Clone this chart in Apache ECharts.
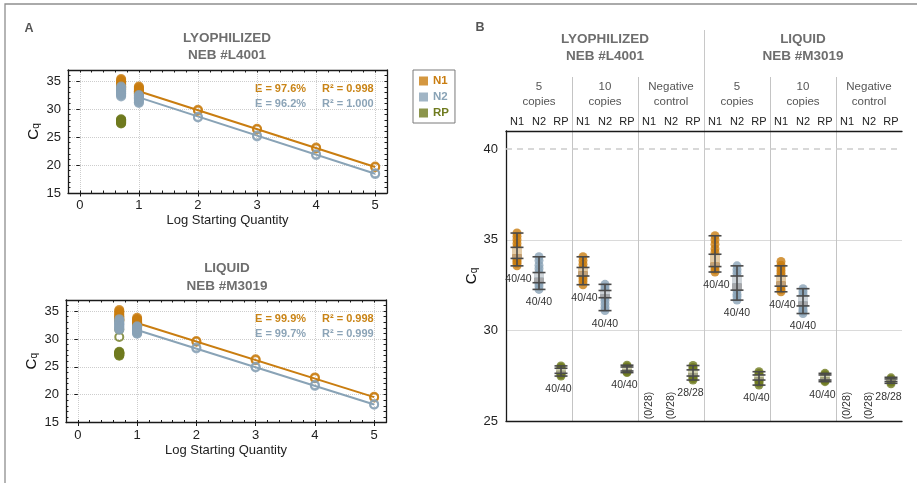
<!DOCTYPE html>
<html><head><meta charset="utf-8">
<script src="https://cdn.jsdelivr.net/npm/echarts@6/dist/echarts.min.js"></script>
<style>html,body{margin:0;padding:0;background:#fff}#c{width:917px;height:483px}</style>
</head><body><div id="c"></div>
<script>
// ================= DATA =================
// Panel B categories
const targets = ['N1', 'N2', 'RP'];
const subgroups = ['5\ncopies', '10\ncopies', 'Negative\ncontrol', '5\ncopies', '10\ncopies', 'Negative\ncontrol'];
const groups = ['LYOPHILIZED\nNEB #L4001', 'LIQUID\nNEB #M3019'];
const columnTargets = ['N1','N2','RP','N1','N2','RP','N1','N2','RP','N1','N2','RP','N1','N2','RP','N1','N2','RP'];

// Cq values per column (estimated)
const lyo5_N1 = [35.37, 35.2, 35.0, 34.8, 34.6, 34.45, 34.3, 34.2, 34.1, 34.0, 33.9, 33.8, 33.7, 33.56];
const lyo5_N2 = [34.06, 33.85, 33.6, 33.4, 33.2, 33.05, 32.95, 32.85, 32.75, 32.6, 32.45, 32.26];
const lyo5_RP = [28.04, 27.95, 27.88, 27.8, 27.75, 27.7, 27.62, 27.55, 27.48];
const lyo10_N1 = [34.06, 33.85, 33.65, 33.45, 33.3, 33.2, 33.1, 33.0, 32.85, 32.7, 32.52];
const lyo10_N2 = [32.54, 32.4, 32.25, 32.1, 32.0, 31.9, 31.8, 31.65, 31.45, 31.25, 31.09];
const lyo10_RP = [28.08, 28.0, 27.95, 27.9, 27.84, 27.78, 27.72, 27.67];
const lyoNeg_RP = [28.06, 27.95, 27.85, 27.75, 27.68, 27.6, 27.52, 27.42, 27.34, 27.26];
const liq5_N1 = [35.22, 35.0, 34.75, 34.5, 34.3, 34.1, 33.95, 33.8, 33.65, 33.5, 33.35, 33.22];
const liq5_N2 = [33.56, 33.35, 33.15, 32.95, 32.8, 32.65, 32.5, 32.35, 32.2, 32.0, 31.85, 31.67];
const liq5_RP = [27.72, 27.62, 27.52, 27.45, 27.38, 27.3, 27.2, 27.1, 26.98];
const liq10_N1 = [33.8, 33.6, 33.45, 33.3, 33.15, 33.0, 32.85, 32.7, 32.55, 32.4, 32.25, 32.13];
const liq10_N2 = [32.3, 32.15, 32.0, 31.85, 31.7, 31.6, 31.5, 31.4, 31.3, 31.15, 31.05, 30.93];
const liq10_RP = [27.63, 27.55, 27.48, 27.42, 27.36, 27.3, 27.23, 27.17];
const liqNeg_RP = [27.38, 27.3, 27.22, 27.15, 27.05];

const columnPoints = [lyo5_N1, lyo5_N2, lyo5_RP, lyo10_N1, lyo10_N2, lyo10_RP, [], [], lyoNeg_RP,
                      liq5_N1, liq5_N2, liq5_RP, liq10_N1, liq10_N2, liq10_RP, [], [], liqNeg_RP];

// Box stats per column: [low whisker, q1, median, q3, high whisker]
const boxStats = [
  [33.56, 33.97, 34.2, 34.58, 35.37],
  [32.26, 32.63, 32.91, 33.19, 34.06],
  [27.48, 27.63, 27.77, 27.91, 28.04],
  [32.52, 33.0, 33.26, 33.47, 34.06],
  [31.09, 31.8, 32.0, 32.2, 32.54],
  [27.67, 27.76, 27.87, 27.98, 28.08],
  null, null,
  [27.26, 27.48, 27.65, 27.82, 28.06],
  [33.22, 33.52, 33.74, 34.2, 35.22],
  [31.67, 32.22, 32.6, 33.0, 33.56],
  [26.98, 27.26, 27.4, 27.54, 27.72],
  [32.13, 32.44, 32.7, 33.0, 33.56],
  [30.93, 31.35, 31.6, 31.9, 32.3],
  [27.17, 27.26, 27.4, 27.54, 27.63],
  null, null,
  [27.08, 27.18, 27.25, 27.32, 27.41]
];
const countLabels = ['40/40','40/40','40/40','40/40','40/40','40/40','(0/28)','(0/28)','28/28',
                     '40/40','40/40','40/40','40/40','40/40','40/40','(0/28)','(0/28)','28/28'];

// Panel A: log starting quantity
const logQty = [0.699, 1];          // 5 copies, 10 copies
const stdX = [2, 3, 4, 5];
const lyoStdN1 = [[29.72, 29.9], [26.35, 26.5], [22.98, 23.12], [19.6, 19.75]];
const lyoStdN2 = [[28.5, 28.65], [25.12, 25.28], [21.78, 21.92], [18.38, 18.52]];
const liqStdN1 = [[29.5, 29.65], [26.2, 26.35], [22.95, 23.1], [19.48, 19.62]];
const liqStdN2 = [[28.3, 28.45], [24.88, 25.02], [21.58, 21.72], [18.18, 18.3]];
const lyoA_RP = [28.2, 28.1, 28.0, 27.9, 27.8, 27.7, 27.6, 27.5, 27.44];
const liqExtraRP = [30.35, 31.7];
const fitX = [1, 5];
const lyoFitN1 = [33.2, 19.66];
const lyoFitN2 = [32.1, 18.45];
const liqFitN1 = [32.87, 19.55];
const liqFitN2 = [31.6, 18.24];
const lyoStats = [['E = 97.6%', 'R\u00b2 = 0.998'], ['E = 96.2%', 'R\u00b2 = 1.000']];
const liqStats = [['E = 99.9%', 'R\u00b2 = 0.998'], ['E = 99.7%', 'R\u00b2 = 0.999']];

// ================= STYLE =================
const FONT = '"Liberation Sans", Arial, sans-serif';
const COL = { N1: '#C97D10', N2: '#89A3B6', RP: '#6F7B1F' };
const TXT = { N1: '#C98416', N2: '#8CA4B7' };
const BOXC = { N1: ['#E3CBA6', '#C0A078'], N2: ['#CDD3D8', '#A6A8AB'], RP: ['#D3D3B2', '#A4A486'] };
const BLACK = '#1a1a1a';
const T = 'rgba(0,0,0,0)';
const intOnly = v => (Math.abs(v - Math.round(v)) < 1e-6 ? String(Math.round(v)) : '');
const five = v => (Math.abs(v / 5 - Math.round(v / 5)) < 1e-6 ? String(Math.round(v)) : '');
const cqName = '{a|C}{b|q}';
const cqStyle = { rich: { a: { fontSize: 15, color: '#111', lineHeight: 15, verticalAlign: 'top' },
                          b: { fontSize: 10, color: '#111', lineHeight: 10, padding: [9, 0, 0, 0], verticalAlign: 'bottom' } } };

function aAxes(gi) {
  const line = { show: true, onZero: false, lineStyle: { color: BLACK, width: 1.3 } };
  const tickLs = { color: BLACK, width: 1 };
  const xs = [
    { gridIndex: gi, type: 'value', position: 'bottom', min: -0.2, max: 5.2, interval: 0.2,
      axisLine: line, axisTick: { show: true, inside: true, length: 2.5, lineStyle: tickLs },
      axisLabel: { formatter: intOnly, fontSize: 13, color: '#222', margin: 6 },
      splitLine: { show: true, lineStyle: { type: 'dotted', width: 1, color: [T, '#cdcdcd', T, T, T] } },
      name: 'Log Starting Quantity', nameLocation: 'middle', nameGap: 21,
      nameTextStyle: { fontSize: 13, color: '#222' } },
    { gridIndex: gi, type: 'value', position: 'top', min: -0.2, max: 5.2, interval: 0.2,
      axisLine: line, axisTick: { show: true, inside: true, length: 2.5, lineStyle: tickLs },
      axisLabel: { show: false }, splitLine: { show: false } },
    { gridIndex: gi, type: 'value', position: 'bottom', min: -0.2, max: 5.2,
      axisLine: { show: false }, axisTick: { show: true, inside: false, length: 3.5, customValues: [0, 1, 2, 3, 4, 5], lineStyle: tickLs },
      axisLabel: { show: false }, splitLine: { show: false } }
  ];
  const ys = [
    { gridIndex: gi, type: 'value', position: 'left', min: 15, max: 37, interval: 1,
      axisLine: line, axisTick: { show: true, inside: true, length: 2.5, lineStyle: tickLs },
      axisLabel: { formatter: five, fontSize: 13, color: '#222', margin: 7 },
      splitLine: { show: true, lineStyle: { type: 'dotted', width: 1, color: ['#cdcdcd', T, T, T, T] } },
      name: cqName, nameLocation: 'middle', nameRotate: 90, nameGap: 27, nameTextStyle: cqStyle },
    { gridIndex: gi, type: 'value', position: 'right', min: 15, max: 37, interval: 1,
      axisLine: line, axisTick: { show: true, inside: true, length: 2.5, lineStyle: tickLs },
      axisLabel: { show: false }, splitLine: { show: false } },
    { gridIndex: gi, type: 'value', position: 'left', min: 15, max: 37,
      axisLine: { show: false }, axisTick: { show: true, inside: false, length: 3.5, customValues: [15, 20, 25, 30, 35], lineStyle: tickLs },
      axisLabel: { show: false }, splitLine: { show: false } }
  ];
  return { xs, ys };
}
const a0 = aAxes(0), a1 = aAxes(1);

// ---- Panel A series ----
function aRing(name, xi, yi, color, pts) {
  return { type: 'scatter', name, xAxisIndex: xi, yAxisIndex: yi, symbol: 'circle', symbolSize: 8,
           itemStyle: { color: T, borderColor: color, borderWidth: 2 }, z: 4, data: pts, animation: false };
}
function aDots(name, xi, yi, color, pts) {
  return { type: 'scatter', name, xAxisIndex: xi, yAxisIndex: yi, symbol: 'circle', symbolSize: 10,
           itemStyle: { color }, z: 4, data: pts, animation: false };
}
function aLine(xi, yi, color, ys) {
  return { type: 'line', name: 'fit', xAxisIndex: xi, yAxisIndex: yi, symbol: 'none', z: 3,
           lineStyle: { color, width: 2 }, data: fitX.map((x, i) => [x, ys[i]]), animation: false };
}
const stdPts = arr => stdX.flatMap((x, i) => arr[i].map(v => [x, v]));
const series = [
  aLine(0, 0, COL.N1, lyoFitN1), aLine(0, 0, COL.N2, lyoFitN2),
  aRing('N1', 0, 0, COL.N1, stdPts(lyoStdN1)),
  aRing('N2', 0, 0, COL.N2, stdPts(lyoStdN2)),
  aDots('N1', 0, 0, COL.N1, [...lyo5_N1.map(v => [logQty[0], v]), ...lyo10_N1.map(v => [logQty[1], v])]),
  aDots('N2', 0, 0, COL.N2, [...lyo5_N2.map(v => [logQty[0], v]), ...lyo10_N2.map(v => [logQty[1], v])]),
  aDots('RP', 0, 0, COL.RP, lyoA_RP.map(v => [logQty[0], v])),
  aLine(3, 3, COL.N1, liqFitN1), aLine(3, 3, COL.N2, liqFitN2),
  aRing('N1', 3, 3, COL.N1, stdPts(liqStdN1)),
  aRing('N2', 3, 3, COL.N2, stdPts(liqStdN2)),
  aDots('N1', 3, 3, COL.N1, [...liq5_N1.map(v => [logQty[0], v]), ...liq10_N1.map(v => [logQty[1], v])]),
  aRing('RP', 3, 3, COL.RP, liqExtraRP.map(v => [logQty[0], v])),
  aDots('RP', 3, 3, COL.RP, liq5_RP.map(v => [logQty[0], v])),
  aDots('N2', 3, 3, COL.N2, [...liq5_N2.map(v => [logQty[0], v]), ...liq10_N2.map(v => [logQty[1], v])])
];

// ---- Panel B series ----
targets.forEach((t, ti) => {
  const data = [];
  columnPoints.forEach((pts, col) => { if (col % 3 === ti) pts.forEach(v => data.push([col, v])); });
  const s = { type: 'scatter', name: t, xAxisIndex: 6, yAxisIndex: 6, symbol: 'circle', symbolSize: 9,
              itemStyle: { color: COL[t] }, z: 3, data, animation: false };
  if (ti === 0) {
    s.markLine = { silent: true, symbol: 'none', label: { show: false }, animation: false,
                   lineStyle: { type: [6, 5], color: '#cccccc', width: 1.5 }, data: [{ yAxis: 40 }] };
  }
  series.push(s);
  const boxData = [];
  boxStats.forEach((b, col) => { if (b && col % 3 === ti) boxData.push([col, ...b]); });
  const cl = BOXC[t];
  series.push({
    type: 'custom', name: t + ' box', xAxisIndex: 6, yAxisIndex: 6, z: 5, animation: false,
    encode: { x: 0, y: [1, 2, 3, 4, 5] }, data: boxData,
    renderItem: (params, api) => {
      const x = api.value(0);
      const pLow = api.coord([x, api.value(1)]);
      const cx = pLow[0], yLow = pLow[1];
      const yQ1 = api.coord([x, api.value(2)])[1];
      const yMed = api.coord([x, api.value(3)])[1];
      const yQ3 = api.coord([x, api.value(4)])[1];
      const yHigh = api.coord([x, api.value(5)])[1];
      const hw = 6.5, bw = 5;
      const ls = { stroke: '#4a4a4a', lineWidth: 1.6 };
      return { type: 'group', children: [
        { type: 'rect', shape: { x: cx - bw, y: yQ3, width: 2 * bw, height: yMed - yQ3 }, style: { fill: cl[0] } },
        { type: 'rect', shape: { x: cx - bw, y: yMed, width: 2 * bw, height: yQ1 - yMed }, style: { fill: cl[1] } },
        { type: 'line', shape: { x1: cx, y1: yHigh, x2: cx, y2: yLow }, style: ls },
        { type: 'line', shape: { x1: cx - hw, y1: yHigh, x2: cx + hw, y2: yHigh }, style: ls },
        { type: 'line', shape: { x1: cx - hw, y1: yLow, x2: cx + hw, y2: yLow }, style: ls },
        { type: 'line', shape: { x1: cx - hw, y1: yQ3, x2: cx + hw, y2: yQ3 }, style: ls },
        { type: 'line', shape: { x1: cx - hw, y1: yQ1, x2: cx + hw, y2: yQ1 }, style: ls }
      ] };
    }
  });
});
// count labels
const Y_MIN_B = 25;
series.push({
  type: 'custom', name: 'counts', xAxisIndex: 6, yAxisIndex: 6, z: 6, clip: false, animation: false,
  encode: { x: 0, y: 1 },
  data: columnPoints.map((pts, col) => [col, pts.length ? Math.min(...pts) : Y_MIN_B, pts.length ? 1 : 0]),
  renderItem: (params, api) => {
    const col = api.value(0), has = api.value(2);
    const p = api.coord([col, api.value(1)]);
    const font = '10.5px ' + FONT;
    if (has) {
      const dx = [1.5, 0, -2.5][col % 3];
      return { type: 'text', x: p[0] + dx, y: p[1] + 13,
               style: { text: countLabels[col], align: 'center', verticalAlign: 'middle', font, fill: '#333' } };
    }
    return { type: 'text', x: p[0], y: p[1] - 15.5, rotation: Math.PI / 2,
             style: { text: countLabels[col], align: 'center', verticalAlign: 'middle', font, fill: '#333' } };
  }
});

// ---- Panel B axes ----
const bX = [
  { gridIndex: 2, type: 'category', data: columnTargets, position: 'bottom', boundaryGap: true,
    axisLine: { show: true, lineStyle: { color: BLACK, width: 1.3 } }, axisTick: { show: false },
    axisLabel: { show: false }, splitLine: { show: false } },
  { gridIndex: 2, type: 'category', data: columnTargets, position: 'top', boundaryGap: true,
    axisLine: { show: true, lineStyle: { color: BLACK, width: 1.3 } }, axisTick: { show: false },
    axisLabel: { interval: 0, fontSize: 11, color: '#222', margin: 4 }, splitLine: { show: false } },
  { gridIndex: 3, type: 'category', data: subgroups, position: 'top', boundaryGap: true,
    axisLine: { show: false }, axisTick: { show: false },
    axisLabel: { inside: true, interval: 0, fontSize: 11.5, lineHeight: 14.5, color: '#555', margin: 3 },
    splitLine: { show: true, interval: 0, showMinLine: false, showMaxLine: false, lineStyle: { color: '#c4c4c4', width: 1 } } },
  { gridIndex: 4, type: 'category', data: groups, position: 'top', boundaryGap: true,
    axisLine: { show: false }, axisTick: { show: false },
    axisLabel: { inside: true, interval: 0, fontSize: 13.5, fontWeight: 'bold', lineHeight: 17, color: '#6e6e6e', margin: 1 },
    splitLine: { show: true, interval: 0, showMinLine: false, showMaxLine: false, lineStyle: { color: '#c8c8c8', width: 1 } } }
];
const bY = [
  { gridIndex: 2, type: 'value', min: 25, max: 41, interval: 5,
    axisLine: { show: true, lineStyle: { color: BLACK, width: 1.3 } }, axisTick: { show: false },
    axisLabel: { formatter: five, fontSize: 13, color: '#222', margin: 8 },
    splitLine: { show: true, lineStyle: { color: [T, '#dadada', '#dadada', T, T], width: 1 } },
    name: cqName, nameLocation: 'middle', nameRotate: 90, nameGap: 26, nameTextStyle: cqStyle },
  { gridIndex: 3, type: 'value', show: false, min: 0, max: 1 },
  { gridIndex: 4, type: 'value', show: false, min: 0, max: 1 }
];

// ---- Graphics (frame, panel letters, titles, fit stats) ----
const titleFont = 'bold 13.5px ' + FONT;
const statFont = 'bold 11px ' + FONT;
const graphic = [
  { type: 'rect', silent: true, shape: { x: 5, y: 4, width: 940, height: 520 }, style: { fill: 'none', stroke: '#8e8e8e', lineWidth: 1.3 } },
  { type: 'text', x: 29, y: 29, style: { text: 'A', font: 'bold 12.5px ' + FONT, fill: '#555', align: 'center', verticalAlign: 'middle' } },
  { type: 'text', x: 480, y: 28, style: { text: 'B', font: 'bold 12.5px ' + FONT, fill: '#555', align: 'center', verticalAlign: 'middle' } },
  { type: 'text', x: 227, y: 47, style: { text: groups[0], font: titleFont, lineHeight: 17.5, fill: '#6e6e6e', align: 'center', verticalAlign: 'middle' } },
  { type: 'text', x: 227, y: 277, style: { text: groups[1], font: titleFont, lineHeight: 18, fill: '#6e6e6e', align: 'center', verticalAlign: 'middle' } }
];
[[lyoStats, 88.5, 103.5], [liqStats, 319, 334]].forEach(([st, y1, y2]) => {
  [[0, y1, TXT.N1], [1, y2, TXT.N2]].forEach(([k, y, c]) => {
    graphic.push({ type: 'text', x: 255, y, style: { text: st[k][0], font: statFont, fill: c, align: 'left', verticalAlign: 'middle' } });
    graphic.push({ type: 'text', x: 322, y, style: { text: st[k][1], font: statFont, fill: c, align: 'left', verticalAlign: 'middle' } });
  });
});

const option = {
  animation: false,
  textStyle: { fontFamily: FONT },
  grid: [
    { left: 68, top: 70, width: 319, height: 123 },
    { left: 66, top: 300, width: 320, height: 122.5 },
    { left: 506, top: 131, width: 396, height: 290 },
    { left: 506, top: 77, width: 396, height: 344 },
    { left: 506, top: 30, width: 396, height: 391 }
  ],
  xAxis: [...a0.xs, ...a1.xs, ...bX],
  yAxis: [...a0.ys, ...a1.ys, ...bY],
  legend: {
    left: 413, top: 70, orient: 'vertical', selectedMode: false, icon: 'rect',
    itemWidth: 9, itemHeight: 9, itemGap: 4, padding: [5, 6, 4, 6],
    borderColor: '#7a7a7a', borderWidth: 1,
    textStyle: { fontSize: 11.5, fontWeight: 'bold', lineHeight: 11 },
    data: targets.map(t => ({ name: t, itemStyle: { color: COL[t], borderWidth: 0 }, textStyle: { color: COL[t] } }))
  },
  graphic,
  series
};
const chart = echarts.init(document.getElementById('c'), null, { renderer: 'canvas' });
chart.setOption(option);
</script></body></html>
